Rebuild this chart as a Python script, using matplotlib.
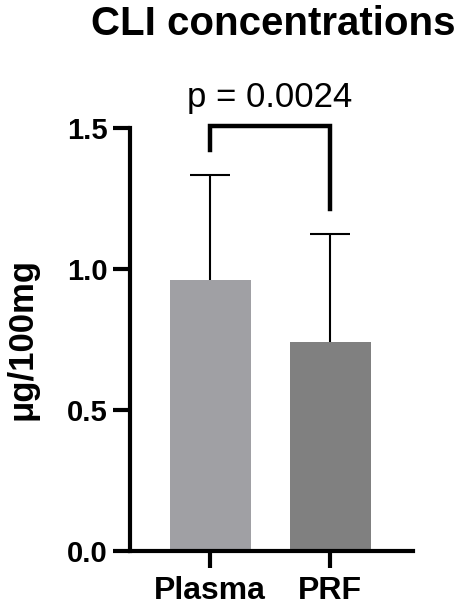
import matplotlib
matplotlib.use("Agg")
import matplotlib.pyplot as plt

groups = ["Plasma", "PRF"]
means = [0.961, 0.741]
sd_upper = [0.372, 0.382]
colors = ["#A0A0A4", "#808080"]
p_label = "p = 0.0024"

plt.rcParams['font.family'] = ['Liberation Sans', 'DejaVu Sans']

W, H = 461, 615
fig = plt.figure(figsize=(W / 100, H / 100), dpi=100)
ax = fig.add_axes([130 / W, (H - 551) / H, (413 - 130) / W, (551 - 128) / H])

x = list(range(len(groups)))
ax.bar(x, means, width=0.675, color=colors, zorder=2)
eb = ax.errorbar(x, means, yerr=[[0] * len(x), sd_upper], fmt='none', ecolor='black',
                 elinewidth=1.5, capsize=14.4, capthick=1.5, zorder=1)
# only the upper cap is shown
eb[1][0].set_visible(False)

ax.set_xlim(-0.667, 1.69)
ax.set_ylim(0, 1.5)
ax.set_yticks([0.0, 0.5, 1.0, 1.5])
ax.set_yticklabels(["0.0", "0.5", "1.0", "1.5"])
ax.set_xticks(x)
ax.set_xticklabels(groups)

for s in ["top", "right"]:
    ax.spines[s].set_visible(False)
for s in ["left", "bottom"]:
    ax.spines[s].set_linewidth(3)
ax.tick_params(axis='both', length=12, width=3)
ax.tick_params(axis='y', labelsize=21, pad=4)
ax.tick_params(axis='x', labelsize=23, pad=6)
for lab in ax.get_xticklabels() + ax.get_yticklabels():
    lab.set_fontweight('bold')

ax.set_ylabel("μg/100mg", fontsize=25, fontweight='bold')
ax.yaxis.set_label_coords(-0.325, 0.5)

# significance bracket
tops = [m + s for m, s in zip(means, sd_upper)]
y_top = max(tops) + 0.175
ax.plot([x[0], x[0], x[1], x[1]], [tops[0] + 0.09, y_top, y_top, tops[1] + 0.09],
        color='black', lw=3.2, clip_on=False, solid_joinstyle='miter')
ax.text((x[0] + x[1]) / 2, y_top + 0.068, p_label, ha='center', va='baseline',
        fontsize=25, clip_on=False)

fig.text(273 / W, 1 - 35 / H, "CLI concentrations", ha='center', va='baseline',
         fontsize=29, fontweight='bold')

fig.savefig("out.png", dpi=100)
